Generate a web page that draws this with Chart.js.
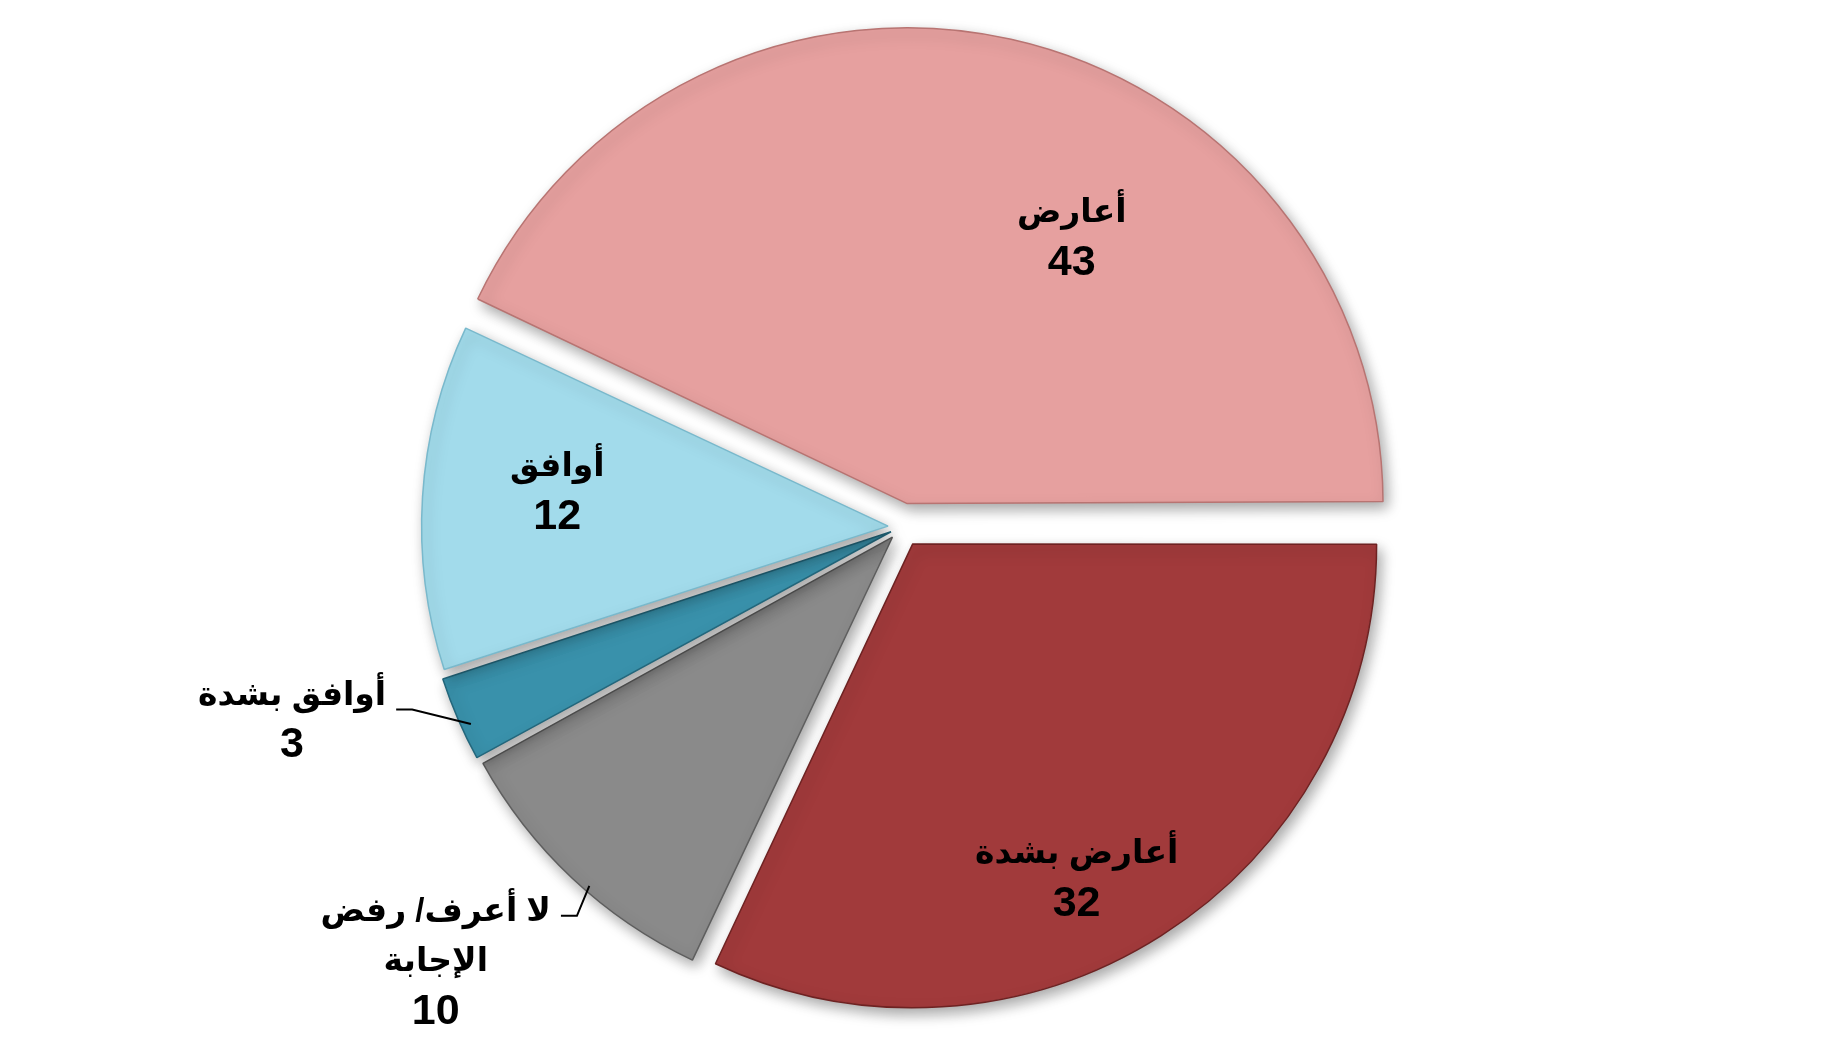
<!DOCTYPE html>
<html lang="ar">
<head>
<meta charset="utf-8">
<script src="https://cdn.jsdelivr.net/npm/chart.js@4.4.0/dist/chart.umd.min.js"></script>
<style>
  html, body { margin: 0; padding: 0; background: #fff; }
  #wrap { width: 1845px; height: 1047px; }
</style>
</head>
<body>
<div id="wrap"><canvas id="pieChart"></canvas></div>
<script>
// slices, clockwise from 3 o'clock
const categories = ['أعارض بشدة', 'لا أعرف/ رفض الإجابة', 'أوافق بشدة', 'أوافق', 'أعارض'];
const labelLines = [['أعارض بشدة'], ['لا أعرف/ رفض', 'الإجابة'], ['أوافق بشدة'], ['أوافق'], ['أعارض']];
const values = [32, 10, 3, 12, 43];

const sliceColors = ['#A13A3B', '#8A8A8A', '#3991AB', '#A2DBEB', '#E6A09F'];
const edgeColors = ['#6E2222', '#5E5E5E', '#23677C', '#79B9CC', '#B87472'];
const explode = [80, 56, 48, 56, 96];

// where each label sits: shift from slice middle (deg), distance as share of radius
const labelPlace = [
  { shift: 6, dist: 0.85, outside: false },
  { shift: 3.8, dist: 1.38, outside: true, leaderShift: -2.2, leaderDy: 4 },
  { shift: 5.8, dist: 1.385, outside: true, leaderShift: -1.2, leaderDy: 14 },
  { shift: 2.2, dist: 0.75, outside: false },
  { shift: 17.8, dist: 0.726, outside: false }
];

const shadowPlugin = {
  id: 'shadow',
  beforeDatasetsDraw(chart) {
    const ctx = chart.ctx;
    ctx.save();
    ctx.shadowColor = 'rgba(0,0,0,0.35)';
    ctx.shadowBlur = 14;
    ctx.shadowOffsetX = 4;
    ctx.shadowOffsetY = 6;
  },
  afterDatasetsDraw(chart) {
    chart.ctx.restore();
  }
};

const textFont = 'bold 33px "Liberation Sans", "DejaVu Sans", sans-serif';
const numFont = 'bold 43px "Liberation Sans", "DejaVu Sans", sans-serif';

const labelPlugin = {
  id: 'sliceLabels',
  afterDraw(chart) {
    const ctx = chart.ctx;
    const meta = chart.getDatasetMeta(0);
    const lh = 50;
    ctx.save();
    ctx.fillStyle = '#000';
    ctx.textAlign = 'center';
    ctx.textBaseline = 'middle';
    ctx.direction = 'rtl';
    meta.data.forEach((arc, i) => {
      const p = arc.getProps(['x', 'y', 'startAngle', 'endAngle', 'outerRadius']);
      const mid = (p.startAngle + p.endAngle) / 2;
      const place = labelPlace[i];
      const a = mid + place.shift * Math.PI / 180;
      const r = p.outerRadius * place.dist;
      const cx = p.x + Math.cos(a) * r;
      const cy = p.y + Math.sin(a) * r;
      const lines = labelLines[i].concat([String(values[i])]);
      const top = cy - (lines.length - 1) * lh / 2;
      lines.forEach((t, k) => {
        ctx.font = k === lines.length - 1 ? numFont : textFont;
        ctx.fillText(t, cx, top + k * lh);
      });

      if (place.outside) {
        const off = explode[i] / 4;
        const la = mid + place.leaderShift * Math.PI / 180;
        const ex = p.x + Math.cos(mid) * off + Math.cos(la) * p.outerRadius;
        const ey = p.y + Math.sin(mid) * off + Math.sin(la) * p.outerRadius;
        ctx.font = textFont;
        const w = ctx.measureText(lines[0]).width;
        const ly = top + place.leaderDy;
        const x1 = cx + w / 2 + 10;
        ctx.beginPath();
        ctx.moveTo(ex, ey);
        ctx.lineTo(x1 + 16, ly);
        ctx.lineTo(x1, ly);
        ctx.lineWidth = 2;
        ctx.strokeStyle = '#000';
        ctx.stroke();
      }
    });
    ctx.restore();
  }
};

new Chart(document.getElementById('pieChart'), {
  type: 'pie',
  data: {
    labels: categories,
    datasets: [{
      data: values,
      backgroundColor: sliceColors,
      borderColor: edgeColors,
      borderWidth: 1.5,
      offset: explode
    }]
  },
  options: {
    responsive: true,
    maintainAspectRatio: false,
    animation: false,
    rotation: 90,
    radius: 462,
    layout: { padding: { right: 41, top: 7 } },
    plugins: {
      legend: { display: false },
      tooltip: { enabled: false }
    }
  },
  plugins: [shadowPlugin, labelPlugin]
});
</script>
</body>
</html>
